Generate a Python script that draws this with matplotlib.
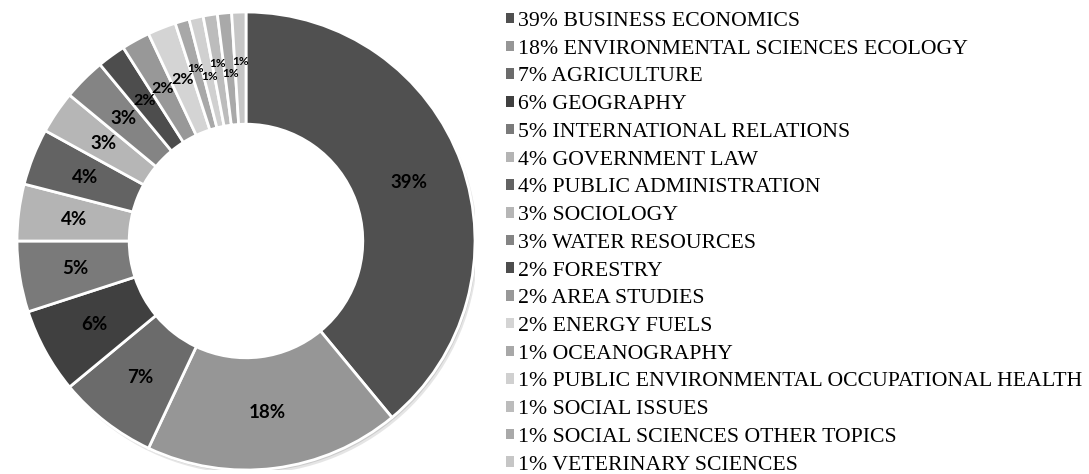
import numpy as np
import matplotlib
matplotlib.use('Agg')
import matplotlib.pyplot as plt
from matplotlib.patches import Patch, Circle

categories = ['BUSINESS ECONOMICS', 'ENVIRONMENTAL SCIENCES ECOLOGY', 'AGRICULTURE',
              'GEOGRAPHY', 'INTERNATIONAL RELATIONS', 'GOVERNMENT LAW',
              'PUBLIC ADMINISTRATION', 'SOCIOLOGY', 'WATER RESOURCES', 'FORESTRY',
              'AREA STUDIES', 'ENERGY FUELS', 'OCEANOGRAPHY',
              'PUBLIC ENVIRONMENTAL OCCUPATIONAL HEALTH', 'SOCIAL ISSUES',
              'SOCIAL SCIENCES OTHER TOPICS', 'VETERINARY SCIENCES']
shares = [39, 18, 7, 6, 5, 4, 4, 3, 3, 2, 2, 2, 1, 1, 1, 1, 1]
colors = ['#505050', '#969696', '#6b6b6b', '#404040', '#7a7a7a', '#b4b4b4',
          '#636363', '#b6b6b6', '#848484', '#4d4d4d', '#989898', '#d4d4d4',
          '#a8a8a8', '#d0d0d0', '#bcbcbc', '#a9a9a9', '#c6c6c6']

W, H = 1089, 474
fig = plt.figure(figsize=(W/100, H/100), dpi=100)

# donut axes: centre ~(246,241) px, outer radius ~229 px
cx, cy, r = 246, 233, 229
ax = fig.add_axes([(cx-r)/W, (cy-r)/H, 2*r/W, 2*r/H])
ring = 0.49
# faint drop shadow like the office chart
for k, a in [(0.012, 0.25), (0.006, 0.35)]:
    ax.add_patch(Circle((k, -k*1.5), 1.0, color='#9a9a9a', alpha=a, lw=0, zorder=0))
wedges, _ = ax.pie(shares, colors=colors, startangle=90, counterclock=False,
                   radius=1, wedgeprops=dict(width=ring, edgecolor='white', linewidth=2))
ax.add_patch(Circle((0, 0), 1 - ring, color='white', lw=0, zorder=0.5))
ax.set_xlim(-1, 1)
ax.set_ylim(-1, 1)
ax.set_aspect('equal')

# percentage labels in the middle of the ring
mid = 1 - ring/2
for i, w in enumerate(wedges):
    ang = np.deg2rad((w.theta1 + w.theta2)/2)
    v = shares[i]
    rr = mid
    if v == 1:
        rr = mid + (0.03 if i % 2 == 0 else -0.02)
        fs = 8.5
    elif v == 2:
        fs = 11.5
    else:
        fs = 13.5
    ax.text(rr*np.cos(ang), rr*np.sin(ang), '%d%%' % v, ha='center', va='center',
            fontsize=fs, fontweight='bold', family='Lato', color='black')

handles = [Patch(facecolor=c, edgecolor='none') for c in colors]
labels = ['%d%% %s' % (v, n) for v, n in zip(shares, categories)]
fig.legend(handles, labels, loc='upper left', bbox_to_anchor=(506/W, 1 - 12/H),
           frameon=False, prop={'family': 'Liberation Serif', 'size': 15.7},
           handlelength=0.37, handleheight=0.37, handletextpad=0.2,
           labelspacing=0.4, borderaxespad=0, borderpad=0)

fig.savefig('out.png', dpi=100)
